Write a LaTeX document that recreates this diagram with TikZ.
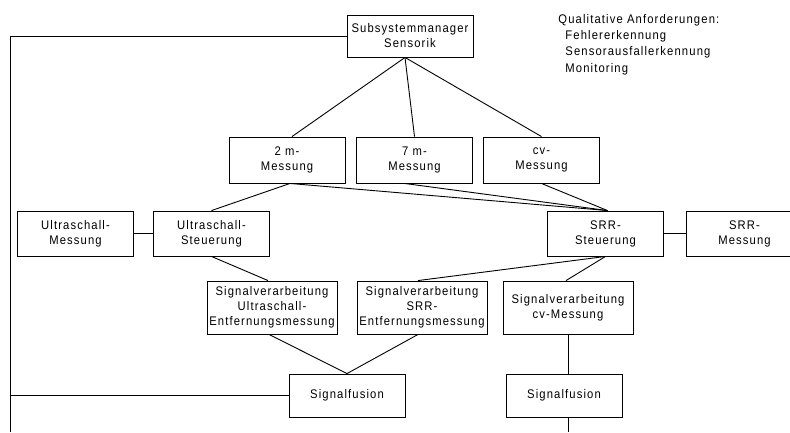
\documentclass[tikz,border=0pt]{standalone}
\usepackage{fontspec}
\setmainfont{Liberation Sans}[FakeStretch=0.9, LetterSpace=9]
\usetikzlibrary{positioning}

\begin{document}
\begin{tikzpicture}[x=1bp, y=-1bp, line width=0.9bp,
    box/.style={draw, align=center, inner sep=0pt, minimum width=116bp, minimum height=46bp,
      font=\fontsize{12.5bp}{15bp}\selectfont},
    svbox/.style={box, minimum width=130bp, minimum height=53bp}]
    \useasboundingbox (0,0) rectangle (790,432);
    \node[box, minimum width=126bp, minimum height=42bp] (ssm) at (410,36) {Subsystemmanager\\Sensorik};
    \node[box] (m2) at (287,160) {2 m-\\Messung};
    \node[box] (m7) at (414.5,160) {7 m-\\Messung};
    \node[box] (mcv) at (541.5,160) {cv-\\Messung};
    \node[box, minimum height=45bp] (usm) at (75.5,233.5) {Ultraschall-\\Messung};
    \node[box, minimum height=45bp] (uss) at (211.5,233.5) {Ultraschall-\\Steuerung};
    \node[box, minimum height=45bp] (srrs) at (605.5,233.5) {SRR-\\Steuerung};
    \node[box, minimum height=45bp] (srrm) at (744.5,233.5) {SRR-\\Messung};
    \node[svbox] (svus) at (272,307.5) {Signalverarbeitung\\Ultraschall-\\Entfernungsmessung};
    \node[svbox] (svsrr) at (422,307.5) {Signalverarbeitung\\SRR-\\Entfernungsmessung};
    \node[svbox] (svcv) at (568,307.5) {Signalverarbeitung\\cv-Messung};
    \node[box, minimum height=43bp] (sf1) at (347,395.5) {Signalfusion};
    \node[box, minimum height=43bp] (sf2) at (564,395.5) {Signalfusion};
    \node[anchor=north west, align=left, inner sep=0pt,
      font=\fontsize{12.5bp}{16.1bp}\selectfont] (req) at (558,14.2)
      {Qualitative Anforderungen:\\\hspace*{7bp}Fehlererkennung\\\hspace*{7bp}Sensorausfallerkennung\\\hspace*{7bp}Monitoring};
    \coordinate (fb) at (10,432);
    \coordinate (out) at (568.5,432);
    \draw ([xshift=-5bp]ssm.south) -- ([xshift=5bp]m2.north);
    \draw ([xshift=-5bp]ssm.south) -- (m7.north);
    \draw ([xshift=-5bp]ssm.south) -- (mcv.north);
    \draw ([xshift=3bp]m2.south) -- (uss.north);
    \draw ([xshift=3bp]m2.south) -- ([xshift=2bp]srrs.north);
    \draw ([xshift=-10bp]m7.south) -- ([xshift=2bp]srrs.north);
    \draw (mcv.south) -- ([xshift=2bp]srrs.north);
    \draw (usm) -- (uss);
    \draw (srrs) -- (srrm);
    \draw (uss.south) -- ([xshift=-4bp]svus.north);
    \draw (srrs.south) -- ([xshift=-4bp]svsrr.north);
    \draw (srrs.south) -- ([xshift=-2bp]svcv.north);
    \draw ([xshift=-3bp]svus.south) -- (sf1.north);
    \draw ([xshift=-4bp]svsrr.south) -- (sf1.north);
    \draw (svcv.south) -- (svcv.south |- sf2.north);
    \draw (sf2.south -| out) -- (out);
    \draw (ssm.west) -| (fb);
    \draw (sf1.west) -- (sf1.west -| fb);
\end{tikzpicture}
\end{document}
